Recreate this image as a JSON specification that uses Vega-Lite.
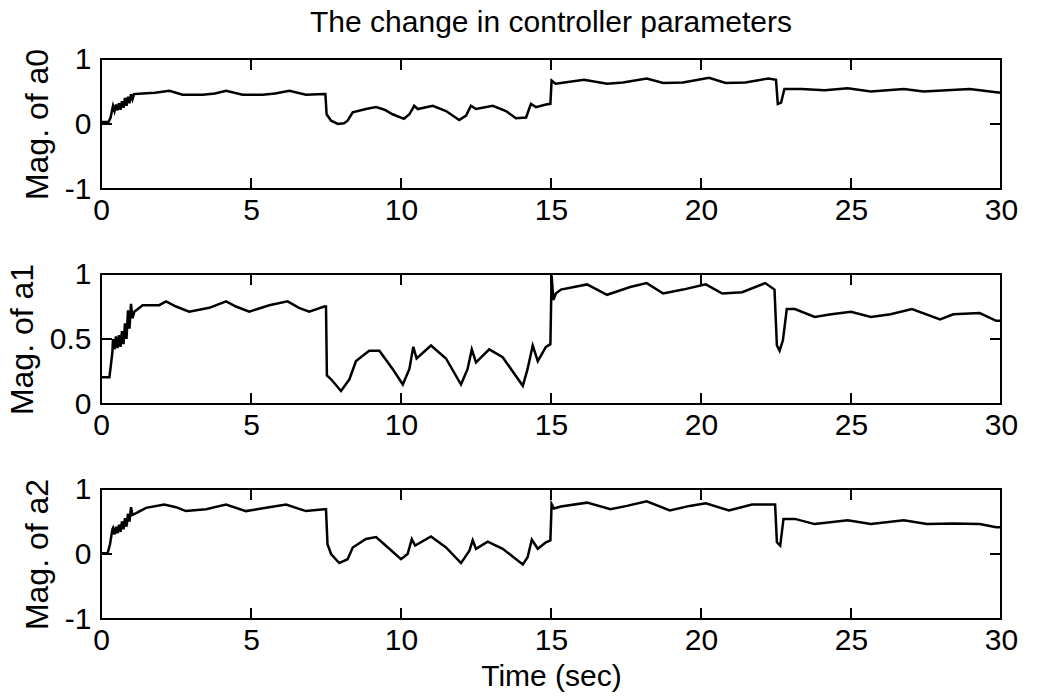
{
  "$schema": "https://vega.github.io/schema/vega-lite/v6.json",
  "background": "white",
  "padding": {"left": 5, "top": 7, "right": 5, "bottom": 5},
  "spacing": 85,
  "bounds": "flush",
  "config": {
    "font": "Liberation Sans",
    "view": {"stroke": "black", "strokeWidth": 2},
    "axis": {"domain": false, "grid": false, "ticks": false, "labelFont": "Liberation Sans", "labelFontSize": 30, "labelColor": "black", "titleFont": "Liberation Sans", "titleFontSize": 30, "titleFontWeight": "normal", "titleColor": "black", "labelFlush": false, "labelOverlap": false, "labelExpr": "datum.value + ''"},
    "axisY": {"titleFontSize": 32},
    "title": {"font": "Liberation Sans", "fontSize": 30, "fontWeight": "normal", "color": "black"}
  },
  "datasets": {
    "xt": [{"t":0},{"t":5},{"t":10},{"t":15},{"t":20},{"t":25},{"t":30}],
    "y11": [{"v":-1},{"v":0},{"v":1}],
    "y01": [{"v":0},{"v":0.5},{"v":1}],
    "a0": [
      {"t":0,"v":0.03},{"t":0.25,"v":0.03},{"t":0.32,"v":0.10},{"t":0.38,"v":0.24},{"t":0.40,"v":0.28},{"t":0.45,"v":0.20},{"t":0.5,"v":0.30},{"t":0.55,"v":0.21},{"t":0.6,"v":0.32},{"t":0.65,"v":0.22},{"t":0.7,"v":0.35},{"t":0.75,"v":0.25},{"t":0.8,"v":0.40},{"t":0.85,"v":0.28},{"t":0.9,"v":0.42},{"t":0.95,"v":0.32},{"t":1.0,"v":0.46},{"t":1.05,"v":0.38},{"t":1.1,"v":0.46},{"t":1.39,"v":0.47},{"t":1.8,"v":0.48},{"t":2.28,"v":0.51},{"t":2.72,"v":0.45},{"t":3.39,"v":0.45},{"t":3.8,"v":0.47},{"t":4.17,"v":0.51},{"t":4.72,"v":0.45},{"t":5.39,"v":0.45},{"t":5.8,"v":0.47},{"t":6.28,"v":0.51},{"t":6.83,"v":0.45},{"t":7.44,"v":0.46},{"t":7.48,"v":0.46},{"t":7.52,"v":0.15},{"t":7.67,"v":0.05},{"t":7.9,"v":0.0},{"t":8.1,"v":0.01},{"t":8.22,"v":0.05},{"t":8.39,"v":0.18},{"t":8.83,"v":0.23},{"t":9.17,"v":0.26},{"t":9.45,"v":0.22},{"t":9.72,"v":0.15},{"t":10.1,"v":0.08},{"t":10.28,"v":0.15},{"t":10.44,"v":0.28},{"t":10.56,"v":0.23},{"t":11.06,"v":0.28},{"t":11.5,"v":0.2},{"t":11.94,"v":0.06},{"t":12.17,"v":0.13},{"t":12.33,"v":0.28},{"t":12.5,"v":0.23},{"t":13.06,"v":0.28},{"t":13.5,"v":0.2},{"t":13.83,"v":0.09},{"t":14.17,"v":0.1},{"t":14.33,"v":0.31},{"t":14.5,"v":0.26},{"t":14.83,"v":0.30},{"t":14.98,"v":0.31},{"t":15.02,"v":0.67},{"t":15.15,"v":0.62},{"t":15.33,"v":0.63},{"t":16.1,"v":0.68},{"t":16.87,"v":0.62},{"t":17.4,"v":0.64},{"t":18.19,"v":0.70},{"t":18.74,"v":0.63},{"t":19.4,"v":0.64},{"t":20.27,"v":0.71},{"t":20.82,"v":0.63},{"t":21.48,"v":0.64},{"t":22.25,"v":0.70},{"t":22.5,"v":0.68},{"t":22.56,"v":0.31},{"t":22.67,"v":0.33},{"t":22.78,"v":0.54},{"t":23.35,"v":0.54},{"t":24.12,"v":0.52},{"t":24.89,"v":0.55},{"t":25.66,"v":0.50},{"t":26.76,"v":0.54},{"t":27.42,"v":0.50},{"t":28.96,"v":0.54},{"t":29.84,"v":0.49},{"t":30,"v":0.48}
    ],
    "a1": [
      {"t":0,"v":0.205},{"t":0.28,"v":0.205},{"t":0.33,"v":0.30},{"t":0.38,"v":0.40},{"t":0.40,"v":0.50},{"t":0.45,"v":0.42},{"t":0.5,"v":0.52},{"t":0.55,"v":0.43},{"t":0.6,"v":0.53},{"t":0.65,"v":0.44},{"t":0.7,"v":0.56},{"t":0.75,"v":0.46},{"t":0.8,"v":0.62},{"t":0.85,"v":0.50},{"t":0.9,"v":0.72},{"t":0.95,"v":0.58},{"t":1.0,"v":0.77},{"t":1.05,"v":0.66},{"t":1.11,"v":0.71},{"t":1.39,"v":0.76},{"t":1.94,"v":0.76},{"t":2.17,"v":0.79},{"t":2.5,"v":0.75},{"t":2.94,"v":0.71},{"t":3.61,"v":0.74},{"t":4.17,"v":0.79},{"t":4.5,"v":0.75},{"t":4.94,"v":0.71},{"t":5.61,"v":0.76},{"t":6.22,"v":0.79},{"t":6.6,"v":0.74},{"t":6.94,"v":0.71},{"t":7.44,"v":0.75},{"t":7.5,"v":0.75},{"t":7.53,"v":0.22},{"t":7.67,"v":0.19},{"t":8.0,"v":0.10},{"t":8.28,"v":0.19},{"t":8.5,"v":0.33},{"t":8.94,"v":0.41},{"t":9.28,"v":0.41},{"t":9.72,"v":0.27},{"t":10.06,"v":0.15},{"t":10.28,"v":0.27},{"t":10.41,"v":0.44},{"t":10.52,"v":0.35},{"t":11.0,"v":0.45},{"t":11.5,"v":0.35},{"t":12.0,"v":0.15},{"t":12.22,"v":0.27},{"t":12.36,"v":0.42},{"t":12.5,"v":0.32},{"t":12.94,"v":0.42},{"t":13.39,"v":0.36},{"t":14.06,"v":0.14},{"t":14.22,"v":0.27},{"t":14.39,"v":0.45},{"t":14.56,"v":0.33},{"t":14.83,"v":0.44},{"t":14.98,"v":0.46},{"t":15.02,"v":0.99},{"t":15.08,"v":0.80},{"t":15.16,"v":0.85},{"t":15.33,"v":0.88},{"t":16.2,"v":0.92},{"t":16.87,"v":0.84},{"t":17.64,"v":0.90},{"t":18.19,"v":0.93},{"t":18.74,"v":0.85},{"t":19.4,"v":0.88},{"t":20.16,"v":0.92},{"t":20.71,"v":0.85},{"t":21.37,"v":0.86},{"t":22.14,"v":0.93},{"t":22.45,"v":0.88},{"t":22.53,"v":0.45},{"t":22.62,"v":0.41},{"t":22.73,"v":0.49},{"t":22.86,"v":0.73},{"t":23.13,"v":0.73},{"t":23.79,"v":0.67},{"t":24.34,"v":0.69},{"t":25.0,"v":0.71},{"t":25.66,"v":0.67},{"t":26.32,"v":0.69},{"t":27.03,"v":0.73},{"t":27.97,"v":0.65},{"t":28.41,"v":0.69},{"t":29.29,"v":0.70},{"t":29.84,"v":0.64},{"t":30,"v":0.64}
    ],
    "a2": [
      {"t":0,"v":0.01},{"t":0.22,"v":0.01},{"t":0.3,"v":0.15},{"t":0.38,"v":0.38},{"t":0.40,"v":0.40},{"t":0.45,"v":0.30},{"t":0.5,"v":0.42},{"t":0.55,"v":0.32},{"t":0.6,"v":0.45},{"t":0.65,"v":0.34},{"t":0.7,"v":0.50},{"t":0.75,"v":0.38},{"t":0.8,"v":0.55},{"t":0.85,"v":0.42},{"t":0.9,"v":0.62},{"t":0.95,"v":0.50},{"t":1.0,"v":0.72},{"t":1.05,"v":0.60},{"t":1.22,"v":0.64},{"t":1.5,"v":0.71},{"t":2.11,"v":0.76},{"t":2.5,"v":0.72},{"t":2.83,"v":0.66},{"t":3.5,"v":0.69},{"t":4.17,"v":0.76},{"t":4.83,"v":0.66},{"t":5.5,"v":0.71},{"t":6.17,"v":0.76},{"t":6.83,"v":0.66},{"t":7.44,"v":0.69},{"t":7.5,"v":0.69},{"t":7.55,"v":0.15},{"t":7.67,"v":0.0},{"t":7.94,"v":-0.14},{"t":8.22,"v":-0.08},{"t":8.39,"v":0.10},{"t":8.83,"v":0.23},{"t":9.17,"v":0.26},{"t":9.61,"v":0.08},{"t":10.0,"v":-0.08},{"t":10.22,"v":0.0},{"t":10.36,"v":0.23},{"t":10.47,"v":0.13},{"t":11.0,"v":0.27},{"t":11.5,"v":0.10},{"t":12.0,"v":-0.14},{"t":12.28,"v":0.05},{"t":12.39,"v":0.21},{"t":12.5,"v":0.08},{"t":12.89,"v":0.19},{"t":13.39,"v":0.08},{"t":14.06,"v":-0.16},{"t":14.22,"v":-0.05},{"t":14.36,"v":0.22},{"t":14.56,"v":0.08},{"t":14.83,"v":0.18},{"t":14.98,"v":0.21},{"t":15.02,"v":0.77},{"t":15.1,"v":0.70},{"t":15.33,"v":0.73},{"t":16.2,"v":0.79},{"t":16.98,"v":0.69},{"t":17.53,"v":0.74},{"t":18.19,"v":0.81},{"t":18.96,"v":0.67},{"t":19.62,"v":0.74},{"t":20.16,"v":0.78},{"t":20.93,"v":0.67},{"t":21.7,"v":0.76},{"t":22.47,"v":0.76},{"t":22.53,"v":0.18},{"t":22.64,"v":0.13},{"t":22.75,"v":0.54},{"t":23.13,"v":0.54},{"t":23.79,"v":0.46},{"t":24.89,"v":0.52},{"t":25.66,"v":0.46},{"t":26.76,"v":0.52},{"t":27.53,"v":0.46},{"t":28.41,"v":0.47},{"t":29.29,"v":0.46},{"t":29.84,"v":0.41},{"t":30,"v":0.41}
    ]
  },
  "vconcat": [
    {
      "width": 900, "height": 130,
      "title": {"text": "The change in controller parameters", "anchor": "middle", "frame": "group", "offset": 6},
      "layer": [
        {"data": {"name": "a0"},
         "mark": {"type": "line", "color": "black", "strokeWidth": 2.5},
         "encoding": {
           "x": {"field": "t", "type": "quantitative", "scale": {"domain": [0, 30], "nice": false}, "axis": {"orient": "bottom", "values": [0,5,10,15,20,25,30], "title": null, "labelPadding": 6}},
           "y": {"field": "v", "type": "quantitative", "scale": {"domain": [-1, 1], "nice": false}, "axis": {"orient": "left", "values": [-1,0,1], "title": "Mag. of a0", "labelPadding": 10, "titlePadding": 10}}
         }},
        {"data": {"name": "xt"}, "mark": {"type": "tick", "orient": "vertical", "size": 22, "thickness": 2, "color": "black", "opacity": 1, "clip": true},
         "encoding": {"x": {"field": "t", "type": "quantitative"}, "y": {"datum": -1, "type": "quantitative"}}},
        {"data": {"name": "xt"}, "mark": {"type": "tick", "orient": "vertical", "size": 22, "thickness": 2, "color": "black", "opacity": 1, "clip": true},
         "encoding": {"x": {"field": "t", "type": "quantitative"}, "y": {"datum": 1, "type": "quantitative"}}},
        {"data": {"name": "y11"}, "mark": {"type": "tick", "orient": "horizontal", "size": 22, "thickness": 2, "color": "black", "opacity": 1, "clip": true},
         "encoding": {"y": {"field": "v", "type": "quantitative"}, "x": {"datum": 0, "type": "quantitative"}}},
        {"data": {"name": "y11"}, "mark": {"type": "tick", "orient": "horizontal", "size": 22, "thickness": 2, "color": "black", "opacity": 1, "clip": true},
         "encoding": {"y": {"field": "v", "type": "quantitative"}, "x": {"datum": 30, "type": "quantitative"}}}
      ]
    },
    {
      "width": 900, "height": 130,
      "layer": [
        {"data": {"name": "a1"},
         "mark": {"type": "line", "color": "black", "strokeWidth": 2.5},
         "encoding": {
           "x": {"field": "t", "type": "quantitative", "scale": {"domain": [0, 30], "nice": false}, "axis": {"orient": "bottom", "values": [0,5,10,15,20,25,30], "title": null, "labelPadding": 6}},
           "y": {"field": "v", "type": "quantitative", "scale": {"domain": [0, 1], "nice": false}, "axis": {"orient": "left", "values": [0,0.5,1], "title": "Mag. of a1", "labelPadding": 10, "titlePadding": 10}}
         }},
        {"data": {"name": "xt"}, "mark": {"type": "tick", "orient": "vertical", "size": 22, "thickness": 2, "color": "black", "opacity": 1, "clip": true},
         "encoding": {"x": {"field": "t", "type": "quantitative"}, "y": {"datum": 0, "type": "quantitative"}}},
        {"data": {"name": "xt"}, "mark": {"type": "tick", "orient": "vertical", "size": 22, "thickness": 2, "color": "black", "opacity": 1, "clip": true},
         "encoding": {"x": {"field": "t", "type": "quantitative"}, "y": {"datum": 1, "type": "quantitative"}}},
        {"data": {"name": "y01"}, "mark": {"type": "tick", "orient": "horizontal", "size": 22, "thickness": 2, "color": "black", "opacity": 1, "clip": true},
         "encoding": {"y": {"field": "v", "type": "quantitative"}, "x": {"datum": 0, "type": "quantitative"}}},
        {"data": {"name": "y01"}, "mark": {"type": "tick", "orient": "horizontal", "size": 22, "thickness": 2, "color": "black", "opacity": 1, "clip": true},
         "encoding": {"y": {"field": "v", "type": "quantitative"}, "x": {"datum": 30, "type": "quantitative"}}}
      ]
    },
    {
      "width": 900, "height": 130,
      "layer": [
        {"data": {"name": "a2"},
         "mark": {"type": "line", "color": "black", "strokeWidth": 2.5},
         "encoding": {
           "x": {"field": "t", "type": "quantitative", "scale": {"domain": [0, 30], "nice": false}, "axis": {"orient": "bottom", "values": [0,5,10,15,20,25,30], "title": "Time (sec)", "labelPadding": 6, "titlePadding": 6}},
           "y": {"field": "v", "type": "quantitative", "scale": {"domain": [-1, 1], "nice": false}, "axis": {"orient": "left", "values": [-1,0,1], "title": "Mag. of a2", "labelPadding": 10, "titlePadding": 10}}
         }},
        {"data": {"name": "xt"}, "mark": {"type": "tick", "orient": "vertical", "size": 22, "thickness": 2, "color": "black", "opacity": 1, "clip": true},
         "encoding": {"x": {"field": "t", "type": "quantitative"}, "y": {"datum": -1, "type": "quantitative"}}},
        {"data": {"name": "xt"}, "mark": {"type": "tick", "orient": "vertical", "size": 22, "thickness": 2, "color": "black", "opacity": 1, "clip": true},
         "encoding": {"x": {"field": "t", "type": "quantitative"}, "y": {"datum": 1, "type": "quantitative"}}},
        {"data": {"name": "y11"}, "mark": {"type": "tick", "orient": "horizontal", "size": 22, "thickness": 2, "color": "black", "opacity": 1, "clip": true},
         "encoding": {"y": {"field": "v", "type": "quantitative"}, "x": {"datum": 0, "type": "quantitative"}}},
        {"data": {"name": "y11"}, "mark": {"type": "tick", "orient": "horizontal", "size": 22, "thickness": 2, "color": "black", "opacity": 1, "clip": true},
         "encoding": {"y": {"field": "v", "type": "quantitative"}, "x": {"datum": 30, "type": "quantitative"}}}
      ]
    }
  ]
}
